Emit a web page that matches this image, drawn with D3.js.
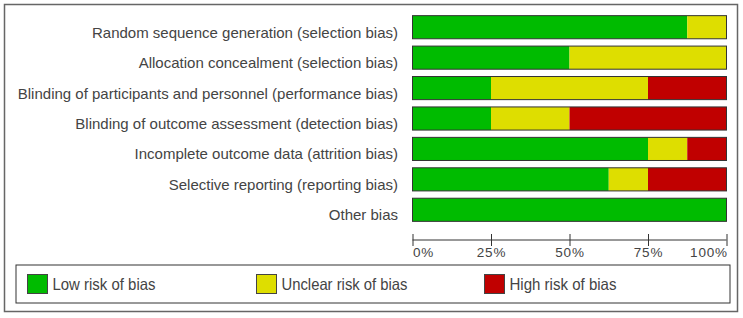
<!DOCTYPE html>
<html><head><meta charset="utf-8">
<script src="https://cdn.jsdelivr.net/npm/d3@7"></script>
<style>body{margin:0;background:#fff}svg{display:block}</style>
</head><body>
<script>
const categories = [
  "Random sequence generation (selection bias)",
  "Allocation concealment (selection bias)",
  "Blinding of participants and personnel (performance bias)",
  "Blinding of outcome assessment (detection bias)",
  "Incomplete outcome data (attrition bias)",
  "Selective reporting (reporting bias)",
  "Other bias"
];
const lowRisk     = [87.5, 50, 25, 25, 75, 62.5, 100];
const unclearRisk = [12.5, 50, 50, 25, 12.5, 12.5, 0];
const highRisk    = [0, 0, 25, 50, 12.5, 25, 0];
const seriesNames = ["Low risk of bias", "Unclear risk of bias", "High risk of bias"];
const tickValues = [0, 25, 50, 75, 100];
const tickLabels = ["0%", "25%", "50%", "75%", "100%"];
const colors = ["#00bb00", "#dede00", "#c00000"];

const W = 743, H = 318;
const svg = d3.select("body").append("svg").attr("width", W).attr("height", H);

svg.append("rect").attr("x", 4.5).attr("y", 4.5).attr("width", 733).attr("height", 307)
  .attr("fill", "#fff").attr("stroke", "#666").attr("stroke-width", 1.5);

const x = d3.scaleLinear().domain([0, 100]).range([412.5, 726.5]);
const y = d3.scaleBand().domain(categories).range([12, 225]).paddingInner(0.24).paddingOuter(0.12);

const rows = categories.map((c, i) => {
  let acc = 0;
  return [lowRisk[i], unclearRisk[i], highRisk[i]].map((v, k) => {
    const seg = {cat: c, k, x0: acc, x1: acc + v};
    acc += v; return seg;
  });
});

const g = svg.append("g");
rows.forEach(r => {
  g.selectAll(null).data(r.filter(s => s.x1 > s.x0)).enter().append("rect")
    .attr("x", s => x(s.x0)).attr("y", s => y(s.cat))
    .attr("width", s => x(s.x1) - x(s.x0)).attr("height", y.bandwidth())
    .attr("fill", s => colors[s.k]);
  g.append("rect").attr("x", x(0)).attr("y", y(r[0].cat)).attr("width", x(100) - x(0))
    .attr("height", y.bandwidth()).attr("fill", "none").attr("stroke", "#333").attr("stroke-width", 1);
});

g.selectAll("text.cat").data(categories).enter().append("text")
  .attr("class", "cat").attr("x", 398).attr("y", d => y(d) + y.bandwidth() / 2 + 10.5)
  .attr("text-anchor", "end").attr("font-family", "Liberation Sans, Arial, sans-serif")
  .attr("font-size", 15).attr("fill", "#444").text(d => d);

const axis = d3.axisBottom(x).tickValues(tickValues).tickSize(0)
  .tickFormat((d, i) => tickLabels[i]);
const ax = svg.append("g").attr("transform", "translate(0,240)").call(axis);
ax.select(".domain").attr("stroke", "#333").attr("d", `M${x(0)},0H${x(100)}`);
ax.selectAll(".tick line").attr("y1", -6).attr("y2", 6).attr("stroke", "#333");
ax.selectAll(".tick text").attr("y", 17).attr("dy", 0)
  .attr("font-family", "Liberation Sans, Arial, sans-serif").attr("font-size", 13.5)
  .attr("letter-spacing", "0.8px").attr("fill", "#444")
  .attr("text-anchor", (d, i) => i === 0 ? "start" : i === tickValues.length - 1 ? "end" : "middle")
  .attr("dx", (d, i) => i === tickValues.length - 1 ? 0.8 : 0);

const leg = svg.append("g");
leg.append("rect").attr("x", 16).attr("y", 265).attr("width", 714).attr("height", 38)
  .attr("fill", "#fff").attr("stroke", "#333").attr("stroke-width", 1);
const legX = [27.5, 256.5, 484.5];
const legLen = [103, 126, 107];
seriesNames.forEach((n, i) => {
  leg.append("rect").attr("x", legX[i]).attr("y", 274.5).attr("width", 20).attr("height", 19)
    .attr("fill", colors[i]).attr("stroke", "#444");
  leg.append("text").attr("x", legX[i] + 25).attr("y", 290)
    .attr("font-family", "Liberation Sans, Arial, sans-serif")
    .attr("font-size", 16.5).attr("fill", "#444")
    .attr("textLength", legLen[i]).attr("lengthAdjust", "spacingAndGlyphs").text(n);
});
</script>
</body></html>
